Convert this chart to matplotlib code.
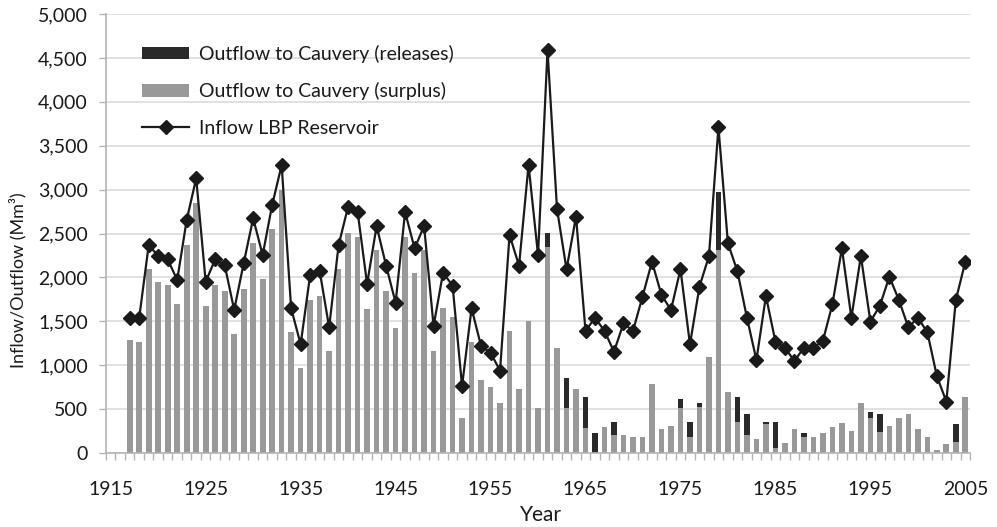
import matplotlib
matplotlib.use("Agg")
import matplotlib.pyplot as plt
from matplotlib.ticker import FuncFormatter, MultipleLocator, FixedLocator
from matplotlib.lines import Line2D
from matplotlib.patches import Patch

plt.rcParams['font.family'] = ['Lato', 'DejaVu Sans']

years = list(range(1917, 2006))

inflow = [1541, 1541, 2369, 2244, 2206, 1970, 2654, 3128, 1951, 2206,
          2141, 1629, 2160, 2673, 2255, 2825, 3280, 1648, 1238, 2027,
          2077, 1431, 2369, 2806, 2749, 1925, 2585, 2134, 1712, 2745,
          2331, 2585, 1446, 2054, 1906, 763, 1648, 1219, 1142, 938,
          2483, 2134, 3280, 2255, 4590, 2779, 2092, 2692, 1390, 1541,
          1390, 1154, 1477, 1390, 1780, 2179, 1800, 1629, 2092, 1238,
          1894, 2244, 3710, 2388, 2069, 1541, 1059, 1788, 1268, 1199,
          1048, 1199, 1199, 1279, 1693, 2331, 1541, 2244, 1496, 1678,
          2008, 1743, 1431, 1541, 1375, 877, 585, 1743, 2179]

surplus = [1287, 1260, 2092, 1951, 1913, 1697, 2369, 2851, 1674, 1913,
           1849, 1352, 1868, 2395, 1978, 2548, 2995, 1375, 965, 1743,
           1788, 1162, 2096, 2502, 2464, 1636, 2312, 1849, 1420, 2456,
           2054, 2312, 1162, 1648, 1545, 402, 1260, 831, 748, 573,
           1390, 725, 1503, 509, 2350, 1199, 509, 725, 288, 0,
           293, 205, 205, 186, 186, 786, 270, 311, 509, 186,
           528, 1090, 2312, 698, 357, 205, 159, 330, 53, 118,
           270, 186, 186, 232, 293, 338, 251, 573, 395, 243,
           311, 395, 440, 270, 186, 34, 99, 129, 634]

releases = [0, 0, 0, 0, 0, 0, 0, 0, 0, 0,
            0, 0, 0, 0, 0, 0, 0, 0, 0, 0,
            0, 0, 0, 0, 0, 0, 0, 0, 0, 0,
            0, 0, 0, 0, 0, 0, 0, 0, 0, 0,
            0, 0, 0, 0, 152, 0, 342, 0, 346, 224,
            0, 152, 0, 0, 0, 0, 0, 0, 106, 171,
            45, 0, 657, 0, 277, 235, 0, 27, 304, 0,
            0, 38, 0, 0, 0, 0, 0, 0, 68, 197,
            0, 0, 0, 0, 0, 0, 0, 201, 0]

tick_years = list(range(1915, 2006, 10))

gray = '#999999'
dark = '#2a2a2a'
axis_gray = '#b4b4b4'

fig = plt.figure(figsize=(9.97, 5.27), dpi=100)
ax = fig.add_axes([0.1063, 0.1404, 0.973 - 0.1063, 0.9734 - 0.1404])

ax.bar(years, surplus, width=0.6, color=gray, zorder=2)
ax.bar(years, releases, width=0.6, bottom=surplus, color=dark, zorder=2)
ax.plot(years, inflow, color='#1a1a1a', lw=1.6, marker='D', markersize=7,
        markerfacecolor='#1a1a1a', markeredgecolor='#1a1a1a', zorder=3)

ax.set_xlim(1914.5, 2005.5)
ax.set_ylim(0, 5000)
ax.yaxis.set_major_locator(MultipleLocator(500))
ax.yaxis.set_major_formatter(FuncFormatter(lambda v, p: f"{int(v):,}"))
ax.grid(axis='y', color='#dcdcdc', lw=1.2, zorder=0)
ax.set_axisbelow(True)

ax.set_xticks(tick_years)
ax.set_xticklabels([str(y) for y in tick_years])
ax.xaxis.set_minor_locator(FixedLocator([y + 0.5 for y in range(1914, 2006)]))
ax.tick_params(axis='x', which='major', length=0, pad=20, labelsize=14, colors='#1a1a1a')
ax.tick_params(axis='x', which='minor', length=5, width=1, color=axis_gray)
ax.tick_params(axis='y', which='major', length=5, width=1, color=axis_gray,
               labelsize=14, labelcolor='#1a1a1a', pad=8)

for s in ['top', 'right']:
    ax.spines[s].set_visible(False)
for s in ['left', 'bottom']:
    ax.spines[s].set_color(axis_gray)
    ax.spines[s].set_linewidth(1.2)

ax.set_xlabel('Year', fontsize=15, color='#1a1a1a')
ax.xaxis.set_label_coords((541 - 106) / 864, -(515 - 453) / 439)
ax.xaxis.label.set_va('center')
ax.set_ylabel('Inflow/Outflow (Mm³)', fontsize=13, color='#1a1a1a')
ax.yaxis.set_label_coords((18 - 106) / 864, 1 - (280 - 14) / 439)
ax.yaxis.label.set_va('center')

handles = [Patch(facecolor=dark, edgecolor='none'),
           Patch(facecolor=gray, edgecolor='none'),
           Line2D([0], [0], color='#1a1a1a', lw=1.6, marker='D', markersize=7)]
labels = ['Outflow to Cauvery (releases)', 'Outflow to Cauvery (surplus)',
          'Inflow LBP Reservoir']
leg = ax.legend(handles, labels, loc='upper left', bbox_to_anchor=(0.042, 0.93),
                frameon=False, fontsize=14, handlelength=2.4, handleheight=0.6,
                labelspacing=1.0, handletextpad=0.5, borderaxespad=0, borderpad=0)
for t in leg.get_texts():
    t.set_color('#1a1a1a')

fig.savefig('out.png', dpi=100)
